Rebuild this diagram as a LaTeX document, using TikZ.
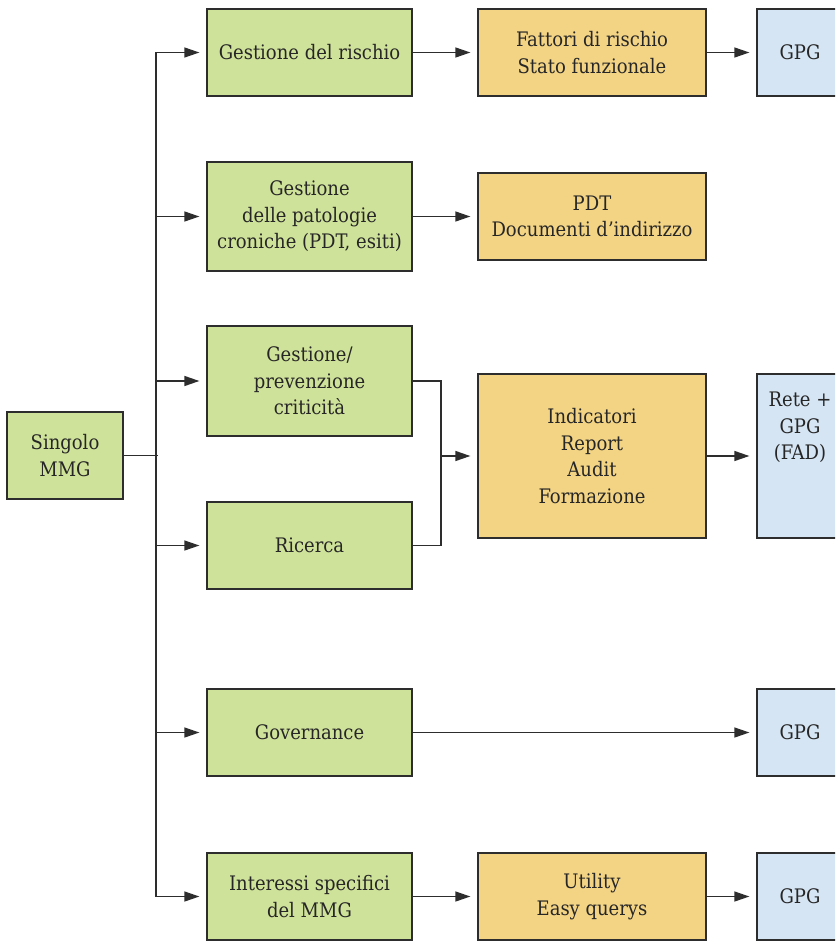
\documentclass[tikz,border=0pt]{standalone}
\usepackage{fontspec}
\setmainfont{DejaVu Serif Condensed}
\usetikzlibrary{arrows.meta}
\definecolor{gfill}{RGB}{207,226,154}
\definecolor{ofill}{RGB}{243,212,132}
\definecolor{bfill}{RGB}{214,229,244}
\definecolor{edge}{RGB}{45,45,45}
\tikzset{
  txt/.style={align=center, font=\fontsize{20}{26.5}\selectfont, text=black!85},
  box/.style={txt, draw=edge, line width=1.3pt, inner sep=2pt},
  gbox/.style={box, fill=gfill, minimum width=205pt, minimum height=87pt},
  obox/.style={box, fill=ofill, minimum width=228pt, minimum height=87pt},
  bbox/.style={box, fill=bfill, minimum width=86pt, minimum height=87pt},
  conn/.style={draw=edge, line width=1.3pt},
  arr/.style={conn, -{Triangle[length=15pt,width=10pt]}, shorten >=7pt}
}
\begin{document}
\begin{tikzpicture}[x=1pt,y=-1pt]
\useasboundingbox (0,0) rectangle (835,941);
\clip (0,0) rectangle (835,941);
\fill[white] (0,0) rectangle (835,941);
% left
\node[gbox, minimum width=116pt, minimum height=87pt] (s) at (65,455.5) {Singolo\\MMG};
% green
\node[gbox] (g1) at (309.5,52.5) {Gestione del rischio};
\node[gbox, minimum height=109pt] (g2) at (309.5,216.5) {Gestione\\delle patologie\\croniche (PDT, esiti)};
\node[gbox, minimum height=110pt] (g3) at (309.5,381) {Gestione/\\prevenzione\\criticità};
\node[gbox] (g4) at (309.5,545.5) {Ricerca};
\node[gbox] (g5) at (309.5,732.5) {Governance};
\node[gbox] (g6) at (309.5,896.5) {Interessi specifici\\del MMG};
% orange
\node[obox] (o1) at (592,52.5) {Fattori di rischio\\Stato funzionale};
\node[obox] (o2) at (592,216.5) {PDT\\Documenti d’indirizzo};
\node[obox, minimum height=164pt] (o3) at (592,456) {Indicatori\\Report\\Audit\\Formazione};
\node[obox] (o6) at (592,896.5) {Utility\\Easy querys};
% blue
\node[bbox] (b1) at (800,52.5) {GPG};
\node[bbox, minimum height=164pt] (b3) at (800,456) {};
\node[txt, anchor=north, inner sep=0pt] (b3t) at (800,392) {Rete +\\GPG\\(FAD)};
\node[bbox] (b5) at (800,732.5) {GPG};
\node[bbox] (b6) at (800,896.5) {GPG};
% trunk
\coordinate (t1) at (156,52.5);
\coordinate (t2) at (156,216.5);
\coordinate (t3) at (156,381);
\coordinate (t4) at (156,545.5);
\coordinate (t5) at (156,732.5);
\coordinate (t6) at (156,896.5);
\coordinate (ts) at (158,455.5);
\draw[conn] (t1) -- (t6);
\draw[conn] (s.east) -- (ts);
\foreach \i in {1,...,6}{\draw[arr] (t\i) -- (g\i.west);}
% green -> orange
\draw[arr] (g1.east) -- (o1.west);
\draw[arr] (g2.east) -- (o2.west);
\draw[arr] (g6.east) -- (o6.west);
% merge
\coordinate (m1) at (441,381);
\coordinate (m2) at (441,545.5);
\coordinate (mm) at (441,456);
\draw[conn] (g3.east) -- (m1) -- (m2) -- (g4.east);
\draw[arr] (mm) -- (o3.west);
% orange -> blue
\draw[arr] (o1.east) -- (b1.west);
\draw[arr] (o3.east) -- (b3.west);
\draw[arr] (o6.east) -- (b6.west);
\draw[arr] (g5.east) -- (b5.west);
\end{tikzpicture}
\end{document}
